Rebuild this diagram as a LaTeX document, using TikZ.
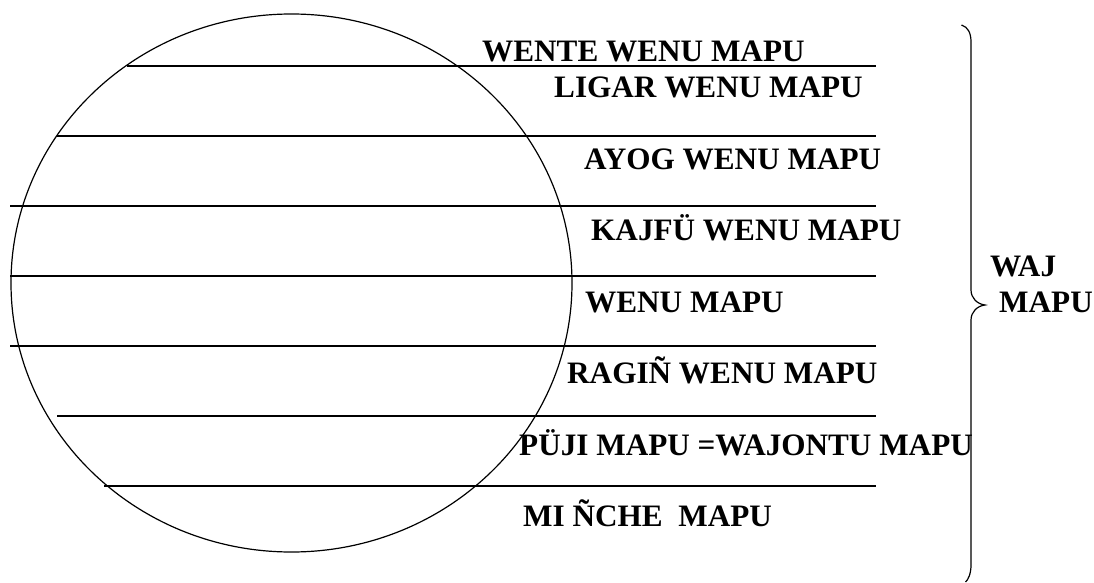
\documentclass[tikz,border=0pt]{standalone}
\usepackage{fontspec}
\setmainfont{Liberation Serif}
\begin{document}
\begin{tikzpicture}[x=1pt,y=-1pt,
  lbl/.style={anchor=base west,inner sep=0pt,font=\fontsize{31.2}{36}\selectfont\bfseries},
  band/.style={line width=1.6pt},
  globe/.style={line width=1.2pt},
  brace/.style={line width=1.2pt}]
\useasboundingbox[fill=white] (0,0) rectangle (1094,583);
% globe
\draw[globe] (291.5,283) ellipse [x radius=280.5, y radius=269];
% band lines
\draw[band] (127,66) -- (876,66);
\draw[band] (57,136) -- (876,136);
\draw[band] (10,206) -- (876,206);
\draw[band] (10,276) -- (876,276);
\draw[band] (10,346) -- (876,346);
\draw[band] (57,416) -- (876,416);
\draw[band] (104,486) -- (876,486);
% labels
\node[lbl] (t1) at (482,62) {WENTE WENU MAPU};
\node[lbl] (t2) at (554,98) {LIGAR WENU MAPU};
\node[lbl] (t3) at (584,169) {AYOG WENU MAPU};
\node[lbl] (t4) at (591,240.5) {KAJFÜ WENU MAPU};
\node[lbl] (t5) at (585,312) {WENU MAPU};
\node[lbl] (t6) at (567,383) {RAGIÑ WENU MAPU};
\node[lbl] (t7) at (519,455.5) {PÜJI MAPU =WAJONTU MAPU};
\node[lbl] (t8) at (523,526.5) {MI ÑCHE\ \ MAPU};
\node[lbl] (t9) at (990,276.5) {WAJ};
\node[lbl] (t10) at (999,312) {MAPU};
% brace
\draw[brace] (961.5,25) .. controls (968,27) and (971,33) .. (971,42)
  -- (971,290) .. controls (971,298) and (977,304) .. (985,305)
  .. controls (977,306) and (971,312) .. (971,320)
  -- (971,565) .. controls (971,574) and (968,580) .. (965.5,582);
\end{tikzpicture}
\end{document}
